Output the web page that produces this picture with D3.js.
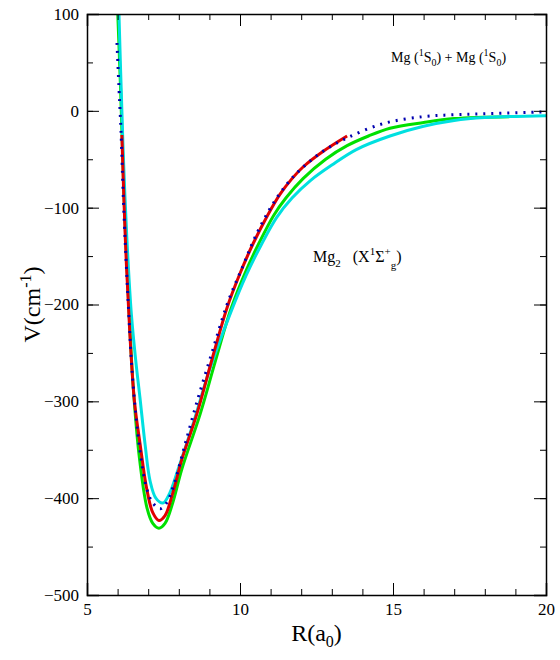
<!DOCTYPE html>
<html><head><meta charset="utf-8">
<script src="https://cdn.jsdelivr.net/npm/d3@7"></script>
<style>body{margin:0;background:#fff}text{font-family:"Liberation Serif",serif}</style>
</head><body><div id="chart"></div>
<script>
// curve data: [R (a0), V (cm-1)]
const redPts = [[6.14,-25],[6.25,-130],[6.4,-230],[6.55,-300],[6.73,-343],[6.95,-390],[7.15,-415],[7.35,-423],[7.55,-418],[7.8,-395],[8.1,-360],[8.59,-313],[9.1,-255],[9.58,-203],[10.0,-168],[10.43,-137],[10.9,-108],[11.31,-86],[11.7,-70],[12.06,-58],[12.71,-42],[13.5,-26]];
const greenPts = [[6.0,105],[6.1,20],[6.2,-80],[6.35,-190],[6.5,-280],[6.7,-355],[6.96,-410],[7.15,-426],[7.35,-431],[7.55,-426],[7.8,-405],[8.1,-370],[8.7,-313],[9.2,-258],[9.7,-205],[10.2,-165],[10.6,-138],[11.1,-108],[11.5,-90],[12.06,-70],[12.8,-50],[13.5,-36],[14.2,-26],[14.9,-18],[16,-12],[17,-8],[18.8,-6]];
const cyanPts = [[6.04,105],[6.1,40],[6.18,-40],[6.3,-130],[6.45,-210],[6.6,-260],[6.73,-296],[6.9,-345],[7.06,-382],[7.25,-400],[7.48,-405],[7.7,-395],[8.0,-368],[8.5,-320],[9.0,-268],[9.7,-208],[10.2,-170],[10.7,-138],[11.2,-110],[11.7,-90],[12.3,-72],[13,-56],[13.8,-40],[14.9,-26],[16,-16],[17,-10],[18,-7],[20,-5]];
const bluePts = [[5.98,70],[6.05,20],[6.11,-20],[6.2,-100],[6.35,-200],[6.5,-280],[6.73,-351],[6.95,-390],[7.15,-405],[7.39,-411],[7.6,-405],[7.85,-385],[8.2,-345],[8.6,-300],[9.1,-248],[9.6,-198],[10.1,-160],[10.5,-130],[11.0,-100],[11.5,-77],[12,-60],[12.7,-42],[13.5,-28],[14.7,-13],[16,-6],[17,-4],[18,-3],[20,-1]];
const xTicks = [5, 10, 15, 20];
const yTicks = [100, 0, -100, -200, -300, -400, -500];

const W = 560, H = 660;
const M = {left: 87, right: 14, top: 14, bottom: 65};
const svg = d3.select("#chart").append("svg").attr("width", W).attr("height", H);

const X = d3.scaleLinear().domain([5, 20]).range([M.left, W - M.right]);
const Y = d3.scaleLinear().domain([-500, 100]).range([H - M.bottom, M.top]);

svg.append("defs").append("clipPath").attr("id", "clip").append("rect")
  .attr("x", X(5)).attr("y", Y(100)).attr("width", X(20) - X(5)).attr("height", Y(-500) - Y(100));

const line = d3.line().x(d => X(d[0])).y(d => Y(d[1])).curve(d3.curveCatmullRom);
const g = svg.append("g").attr("clip-path", "url(#clip)");
g.append("path").datum(greenPts).attr("d", line).attr("fill", "none").attr("stroke", "#00e000").attr("stroke-width", 3);
g.append("path").datum(cyanPts).attr("d", line).attr("fill", "none").attr("stroke", "#00e0e0").attr("stroke-width", 3);
g.append("path").datum(redPts).attr("d", line).attr("fill", "none").attr("stroke", "#e00000").attr("stroke-width", 3);
g.append("path").datum(bluePts).attr("d", line).attr("fill", "none").attr("stroke", "#0000b0").attr("stroke-width", 3).attr("stroke-dasharray", "2,6");

// frame with inward ticks on all sides
function axes(axis, tr, major, minor, labels) {
  const a = svg.append("g").attr("transform", tr);
  a.call(axis.tickValues(minor).tickSize(-6).tickFormat(""));
  a.selectAll(".domain").remove();
  const b = svg.append("g").attr("transform", tr);
  b.call(axis.tickValues(major).tickSize(-12).tickFormat(labels ? d3.format("d") : "").tickPadding(8));
  b.attr("font-family", "Liberation Serif").attr("font-size", 17);
  b.selectAll("text").attr("fill", "#000");
  b.select(".domain").attr("stroke-width", 1.5);
}
const xMinor = d3.range(5, 20.01, 1), yMinor = d3.range(-500, 100.1, 50);
axes(d3.axisBottom(X), `translate(0,${Y(-500)})`, xTicks, xMinor, true);
axes(d3.axisTop(X), `translate(0,${Y(100)})`, xTicks, xMinor, false);
axes(d3.axisLeft(Y), `translate(${X(5)},0)`, yTicks, yMinor, true);
axes(d3.axisRight(Y), `translate(${X(20)},0)`, yTicks, yMinor, false);

svg.append("text").attr("x", (X(5) + X(20)) / 2).attr("y", 641).attr("text-anchor", "middle")
  .attr("font-size", 24).html('R(a<tspan dy="6" font-size="16">0</tspan><tspan dy="-6">)</tspan>');
svg.append("text").attr("transform", `translate(40,${(Y(100) + Y(-500)) / 2}) rotate(-90)`).attr("text-anchor", "middle")
  .attr("font-size", 24).html('V(cm<tspan dy="-9" font-size="16">-1</tspan><tspan dy="9">)</tspan>');

svg.append("text").attr("x", 313).attr("y", 262).attr("font-size", 16)
  .html('Mg<tspan dy="5" font-size="11">2</tspan><tspan dy="-5" xml:space="preserve">   (X</tspan><tspan dy="-7" font-size="11">1</tspan><tspan dy="7">Σ</tspan><tspan dy="-7" font-size="11">+</tspan><tspan dy="14" font-size="11">g</tspan><tspan dy="-7">)</tspan>');
svg.append("text").attr("x", 391).attr("y", 62).attr("font-size", 14)
  .html('Mg (<tspan dy="-6" font-size="10">1</tspan><tspan dy="6">S</tspan><tspan dy="4" font-size="10">0</tspan><tspan dy="-4">) + Mg (</tspan><tspan dy="-6" font-size="10">1</tspan><tspan dy="6">S</tspan><tspan dy="4" font-size="10">0</tspan><tspan dy="-4">)</tspan>');
</script></body></html>
